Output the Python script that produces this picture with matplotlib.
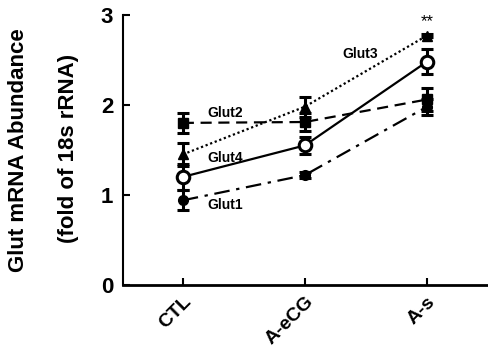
import matplotlib.pyplot as plt

plt.rcParams['font.family'] = ['Liberation Sans', 'DejaVu Sans']

groups = ['CTL', 'A-eCG', 'A-s']
glut1 = [0.94, 1.22, 1.98]
glut1_err = [0.11, 0.03, 0.09]
glut2 = [1.80, 1.81, 2.06]
glut2_err = [0.11, 0.10, 0.13]
glut3 = [1.45, 1.98, 2.77]
glut3_err = [0.13, 0.11, 0.02]
glut4 = [1.20, 1.55, 2.48]
glut4_err = [0.14, 0.09, 0.14]

x = list(range(len(groups)))

fig = plt.figure(figsize=(4.88, 3.54), dpi=100)
ax = fig.add_axes([0.252, 0.195, 0.748, 0.763])

eb = dict(color='black', capsize=4, capthick=2.2, elinewidth=2.2, lw=1.6)
ax.errorbar(x, glut2, yerr=glut2_err, ls=(0, (5, 3)), marker='s', ms=7, mfc='black', mec='black', **eb)
ax.errorbar(x, glut3, yerr=glut3_err, ls=(0, (1, 1.2)), marker='^', ms=7, mfc='black', mec='black', **eb)
ax.errorbar(x, glut1, yerr=glut1_err, ls=(0, (7, 3, 1.5, 3)), marker='o', ms=7, mfc='black', mec='black', **eb)
ax.errorbar(x, glut4, yerr=glut4_err, ls='-', marker='o', ms=9, mfc='white', mec='black', mew=2.2, **eb)

lab = dict(fontsize=10, fontweight='bold', va='center', ha='left')
ax.text(0.2, 1.91, 'Glut2', **lab)
ax.text(0.2, 1.41, 'Glut4', **lab)
ax.text(0.2, 0.89, 'Glut1', **lab)
ax.text(1.31, 2.56, 'Glut3', **lab)
ax.text(2, 2.92, '**', fontsize=12, ha='center', va='center')

ax.set_xlim(-0.49, 2.5)
ax.set_ylim(0, 3)
ax.set_yticks([0, 1, 2, 3])
ax.set_xticks(x)
ax.set_xticklabels(groups, rotation=45, ha='right', va='top', rotation_mode='anchor')
ax.tick_params(direction='in', width=1.5, length=5)
ax.tick_params(axis='y', labelsize=16, pad=7)
ax.tick_params(axis='x', labelsize=14, pad=6)
for t in ax.get_xticklabels() + ax.get_yticklabels():
    t.set_fontweight('bold')
for s in ['top', 'right']:
    ax.spines[s].set_visible(False)
ax.spines['left'].set_linewidth(1.5)
ax.spines['bottom'].set_linewidth(2)

fig.text(0.037, 0.576, 'Glut mRNA Abundance', rotation=90, fontsize=16, fontweight='bold', ha='center', va='center')
fig.text(0.141, 0.58, '(fold of 18s rRNA)', rotation=90, fontsize=16, fontweight='bold', ha='center', va='center')

fig.savefig('out.png', dpi=100)
